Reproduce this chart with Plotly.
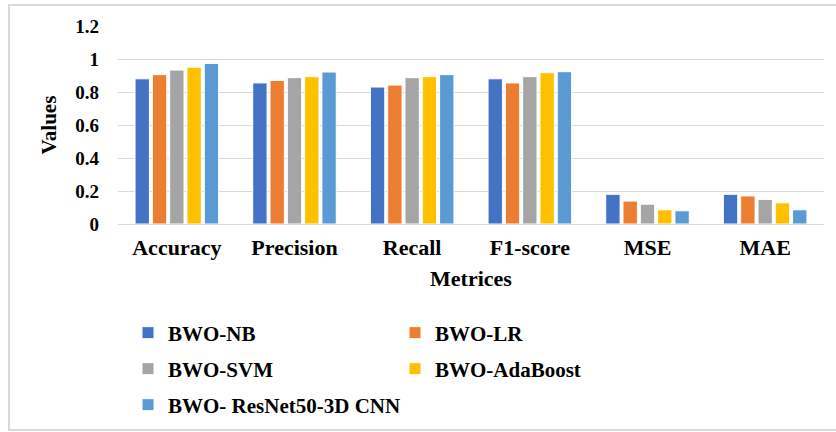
import plotly.graph_objects as go

# Evaluation metrics per model
metrics = ["Accuracy", "Precision", "Recall", "F1-score", "MSE", "MAE"]
models = ["BWO-NB", "BWO-LR", "BWO-SVM", "BWO-AdaBoost", "BWO- ResNet50-3D CNN"]

bwo_nb = [0.88, 0.855, 0.83, 0.88, 0.18, 0.18]
bwo_lr = [0.905, 0.87, 0.842, 0.855, 0.139, 0.17]
bwo_svm = [0.933, 0.887, 0.887, 0.893, 0.12, 0.149]
bwo_ada = [0.95, 0.893, 0.893, 0.917, 0.086, 0.128]
bwo_resnet = [0.973, 0.921, 0.905, 0.923, 0.08, 0.086]

series = [bwo_nb, bwo_lr, bwo_svm, bwo_ada, bwo_resnet]
colors = ["#4472C4", "#ED7D31", "#A5A5A5", "#FFC000", "#5B9BD5"]
legend_ids = ["legend", "legend", "legend2", "legend2", "legend3"]

W, H = 836, 432
ML, MR, MT, MB = 118, 12, 26, 208
FONT = "Liberation Serif"

fig = go.Figure()
for name, vals, col, lg in zip(models, series, colors, legend_ids):
    fig.add_trace(go.Bar(
        x=metrics, y=vals, name=name,
        marker=dict(color=col, line=dict(color="white", width=1)),
        legend=lg,
    ))

pw = W - ML - MR
ph = H - MT - MB

def px_x(p):
    return (p - ML) / pw

def px_y(p):
    return (H - MB - p) / ph

def legend_row(y_px, entry_w):
    return dict(
        orientation="h", xanchor="left", yanchor="middle",
        xref="container", yref="container",
        x=128 / W, y=1 - y_px / H,
        entrywidth=entry_w, itemwidth=30,
        font=dict(family=FONT, size=21, color="#000000", weight="bold"),
        bgcolor="rgba(0,0,0,0)", traceorder="normal",
    )

fig.update_layout(
    width=W, height=H,
    margin=dict(l=ML, r=MR, t=MT, b=MB),
    paper_bgcolor="white", plot_bgcolor="white",
    barmode="group", bargap=0.265, bargroupgap=0.17,
    font=dict(family=FONT, color="#000000"),
    xaxis=dict(
        showgrid=False, showline=True, linecolor="#d9d9d9", linewidth=1,
        ticks="", ticklabelstandoff=4,
        tickfont=dict(family=FONT, size=22, color="#000000", weight="bold"),
        title=dict(text="<b>Metrices</b>", font=dict(family=FONT, size=22), standoff=11),
    ),
    yaxis=dict(
        range=[0, 1.2], dtick=0.2, tickformat="~g",
        showgrid=True, gridcolor="#d9d9d9", gridwidth=1,
        zeroline=True, zerolinecolor="#d9d9d9", zerolinewidth=1,
        ticks="", ticklabelstandoff=18,
        tickfont=dict(family=FONT, size=19, color="#000000", weight="bold"),
        title=dict(text="<b>Values</b>", font=dict(family=FONT, size=21), standoff=12),
    ),
    legend=legend_row(333, 222),
    legend2=legend_row(369, 222),
    legend3=legend_row(405, 320),
    shapes=[dict(
        type="rect", xref="paper", yref="paper",
        x0=px_x(9), x1=px_x(845), y0=px_y(430), y1=px_y(5),
        line=dict(color="#d9d9d9", width=2), fillcolor="rgba(0,0,0,0)",
        layer="below",
    )],
)

fig.write_html("out.html")
